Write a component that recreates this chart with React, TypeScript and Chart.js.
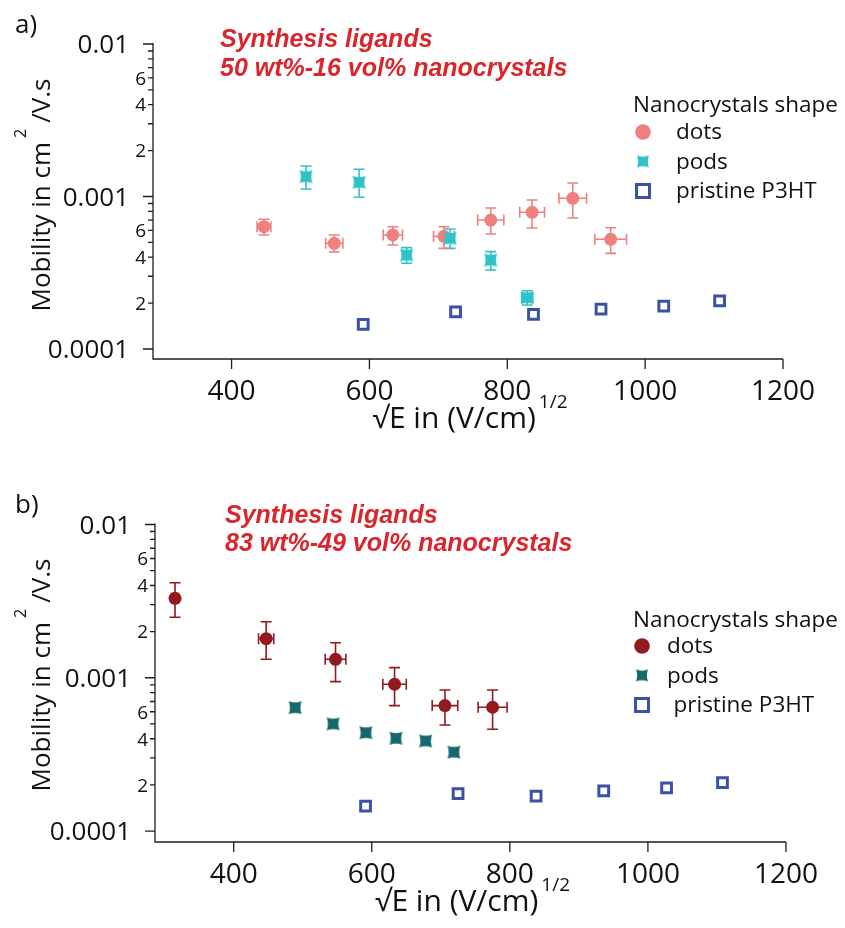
import React, { useEffect, useRef } from 'react';
import { Chart, registerables } from 'chart.js';

Chart.register(...registerables);

// ---------- axis / tick data ----------
const X_TICK_VALUES = [400, 600, 800, 1000, 1200];
const X_MIN = 286;
const X_MAX = 1200;
const Y_MAX = 0.01;
const Y_MAJOR_VALUES = [0.0001, 0.001, 0.01];
const Y_MAJOR_LABELS = ['0.0001', '0.001', '0.01'];
const Y_MINOR_MULTIPLIERS = [2, 3, 4, 5, 6, 7, 8, 9];
const Y_MINOR_LABELED = [2, 4, 6];

// ---------- text ----------
const LEGEND_TITLE = 'Nanocrystals shape';
const SERIES_NAMES = ['dots', 'pods', 'pristine P3HT'];
const X_TITLE = '√E in (V/cm)';
const X_TITLE_SUP = '1/2';
const Y_TITLE_MAIN = 'Mobility in cm';
const Y_TITLE_SUP = '2';
const Y_TITLE_END = '/V.s';

// ---------- pristine P3HT (same in both panels) ----------
const P3HT_X = [591, 725, 838, 936, 1027, 1108];
const P3HT_Y = [1.452e-4, 1.755e-4, 1.687e-4, 1.828e-4, 1.912e-4, 2.067e-4];

// ---------- panel a ----------
const A_TITLE = ['Synthesis ligands', '50 wt%-16 vol% nanocrystals'];
const A_DOTS_X = [447, 549, 634, 708, 776, 836, 895, 950];
const A_DOTS_Y = [6.34e-4, 4.93e-4, 5.59e-4, 5.48e-4, 7.01e-4, 7.88e-4, 9.73e-4, 5.24e-4];
const A_DOTS_Y_LOW = [5.59e-4, 4.33e-4, 4.81e-4, 4.57e-4, 5.68e-4, 6.21e-4, 7.23e-4, 4.24e-4];
const A_DOTS_Y_HIGH = [7.09e-4, 5.59e-4, 6.34e-4, 6.34e-4, 8.41e-4, 9.48e-4, 1.226e-3, 6.24e-4];
const A_DOTS_X_ERR = [10, 12.5, 14, 15, 19, 18, 20, 23];
const A_PODS_X = [508, 585, 654, 717, 776, 829];
const A_PODS_Y = [1.349e-3, 1.239e-3, 4.13e-4, 5.32e-4, 3.83e-4, 2.17e-4];
const A_PODS_Y_LOW = [1.12e-3, 9.88e-4, 3.65e-4, 4.57e-4, 3.3e-4, 1.945e-4];
const A_PODS_Y_HIGH = [1.585e-3, 1.51e-3, 4.62e-4, 6.12e-4, 4.35e-4, 2.41e-4];
const A_PODS_X_ERR = [0, 0, 0, 0, 0, 8];

// ---------- panel b ----------
const B_TITLE = ['Synthesis ligands', '83 wt%-49 vol% nanocrystals'];
const B_DOTS_X = [315, 447, 547.5, 633, 706, 775];
const B_DOTS_Y = [3.3e-3, 1.8e-3, 1.32e-3, 9.07e-4, 6.58e-4, 6.42e-4];
const B_DOTS_Y_LOW = [2.48e-3, 1.32e-3, 9.43e-4, 6.58e-4, 4.92e-4, 4.61e-4];
const B_DOTS_Y_HIGH = [4.17e-3, 2.32e-3, 1.694e-3, 1.164e-3, 8.32e-4, 8.32e-4];
const B_DOTS_X_ERR = [5, 11, 15, 17, 18.5, 21];
const B_PODS_X = [489, 544, 591.5, 635, 678, 719];
const B_PODS_Y = [6.38e-4, 5.0e-4, 4.38e-4, 4.03e-4, 3.87e-4, 3.27e-4];

// ---------- styles ----------
const FONT = '"Open Sans", "Noto Sans", sans-serif';
const AXIS_COLOR = '#1e1e1e';
const TITLE_RED = '#d8262c';
const P3HT_COLOR = '#3b51a8';

type Pt = { x: number; y: number; yMin?: number; yMax?: number; xMin?: number; xMax?: number };

function toPoints(xs: number[], ys: number[], lo?: number[], hi?: number[], xe?: number[]): Pt[] {
  return xs.map((x, i) => {
    const p: Pt = { x, y: ys[i] };
    if (lo && hi) {
      p.yMin = lo[i];
      p.yMax = hi[i];
    }
    if (xe && xe[i] > 0) {
      p.xMin = x - xe[i];
      p.xMax = x + xe[i];
    }
    return p;
  });
}

function podImage(color: string, size: number): HTMLCanvasElement {
  const c = document.createElement('canvas');
  const s = Math.ceil(size) + 2;
  c.width = s;
  c.height = s;
  const g = c.getContext('2d') as CanvasRenderingContext2D;
  const m = s / 2;
  const h = size / 2;
  const k = h * 0.38;
  g.fillStyle = color;
  g.beginPath();
  g.moveTo(m - h, m - h);
  g.quadraticCurveTo(m, m - h + k, m + h, m - h);
  g.quadraticCurveTo(m + h - k, m, m + h, m + h);
  g.quadraticCurveTo(m, m + h - k, m - h, m + h);
  g.quadraticCurveTo(m - h + k, m, m - h, m - h);
  g.closePath();
  g.fill();
  return c;
}

interface PanelLayout {
  padding: { left: number; right: number; top: number; bottom: number };
  yMin: number;
  label: string;
  labelY: number;
  titleX: number;
  titleY: [number, number];
  title: string[];
  yTitleCenter: number;
  legendTitleY: number;
  legendMarkerX: number;
  legendTextX: number[];
  legendRowY: number[];
  dotColor: string;
  podColor: string;
}

const LAYOUT_A: PanelLayout = {
  padding: { left: 153, right: 62, top: 44, bottom: 105 },
  yMin: 8.6e-5,
  label: 'a)',
  labelY: 33,
  titleX: 220,
  titleY: [47, 75.5],
  title: A_TITLE,
  yTitleCenter: 195,
  legendTitleY: 111.5,
  legendMarkerX: 643,
  legendTextX: [676, 676, 676],
  legendRowY: [132, 161.5, 191],
  dotColor: '#f08080',
  podColor: '#2fc3c8',
};

const LAYOUT_B: PanelLayout = {
  padding: { left: 155, right: 59, top: 60.5, bottom: 86 },
  yMin: 8.48e-5,
  label: 'b)',
  labelY: 49,
  titleX: 225,
  titleY: [59, 87],
  title: B_TITLE,
  yTitleCenter: 211,
  legendTitleY: 162.5,
  legendMarkerX: 642,
  legendTextX: [667, 667, 673.5],
  legendRowY: [182, 211.5, 241],
  dotColor: '#921b20',
  podColor: '#16696b',
};

function makeDecor(L: PanelLayout, legendPod: HTMLCanvasElement) {
  return {
    id: 'decor',
    beforeDatasetsDraw(chart: any) {
      const ctx: CanvasRenderingContext2D = chart.ctx;
      const xs = chart.scales.x;
      const ys = chart.scales.y;
      chart.data.datasets.forEach((ds: any) => {
        if (!ds.errColor) return;
        ctx.save();
        ctx.strokeStyle = ds.errColor;
        ctx.lineWidth = 1.6;
        const cap = ds.capSize / 2;
        ds.data.forEach((p: Pt) => {
          const px = xs.getPixelForValue(p.x);
          const py = ys.getPixelForValue(p.y);
          ctx.beginPath();
          if (p.yMin != null && p.yMax != null) {
            const y1 = ys.getPixelForValue(p.yMin);
            const y2 = ys.getPixelForValue(p.yMax);
            ctx.moveTo(px, y1);
            ctx.lineTo(px, y2);
            ctx.moveTo(px - cap, y1);
            ctx.lineTo(px + cap, y1);
            ctx.moveTo(px - cap, y2);
            ctx.lineTo(px + cap, y2);
          }
          if (p.xMin != null && p.xMax != null) {
            const x1 = xs.getPixelForValue(p.xMin);
            const x2 = xs.getPixelForValue(p.xMax);
            ctx.moveTo(x1, py);
            ctx.lineTo(x2, py);
            ctx.moveTo(x1, py - cap);
            ctx.lineTo(x1, py + cap);
            ctx.moveTo(x2, py - cap);
            ctx.lineTo(x2, py + cap);
          }
          ctx.stroke();
        });
        ctx.restore();
      });
    },
    afterDraw(chart: any) {
      const ctx: CanvasRenderingContext2D = chart.ctx;
      const xs = chart.scales.x;
      const ys = chart.scales.y;
      const { left, right, top, bottom } = chart.chartArea;
      ctx.save();
      // axis lines
      ctx.strokeStyle = AXIS_COLOR;
      ctx.lineWidth = 1.3;
      ctx.beginPath();
      ctx.moveTo(left, top - 1);
      ctx.lineTo(left, bottom);
      ctx.lineTo(right, bottom);
      ctx.stroke();

      // y ticks
      ctx.fillStyle = '#111';
      ctx.textAlign = 'right';
      ctx.textBaseline = 'alphabetic';
      ctx.beginPath();
      Y_MAJOR_VALUES.forEach((v, i) => {
        const py = ys.getPixelForValue(v);
        ctx.moveTo(left - 10, py);
        ctx.lineTo(left, py);
        if (i < Y_MAJOR_VALUES.length - 1) {
          Y_MINOR_MULTIPLIERS.forEach((m) => {
            const my = ys.getPixelForValue(v * m);
            ctx.moveTo(left - 5, my);
            ctx.lineTo(left, my);
          });
        }
      });
      // x ticks
      X_TICK_VALUES.forEach((v) => {
        const px = xs.getPixelForValue(v);
        ctx.moveTo(px, bottom);
        ctx.lineTo(px, bottom + 10);
      });
      ctx.stroke();

      ctx.font = `26px ${FONT}`;
      Y_MAJOR_VALUES.forEach((v, i) => {
        const py = ys.getPixelForValue(v);
        ctx.fillText(Y_MAJOR_LABELS[i], left - 24, py + 9);
      });
      ctx.font = `19px ${FONT}`;
      Y_MAJOR_VALUES.slice(0, -1).forEach((v) => {
        Y_MINOR_LABELED.forEach((m) => {
          const py = ys.getPixelForValue(v * m);
          ctx.fillText(String(m), left - 7, py + 6.8);
        });
      });

      ctx.textAlign = 'center';
      ctx.font = `28px ${FONT}`;
      X_TICK_VALUES.forEach((v) => {
        const px = xs.getPixelForValue(v);
        ctx.fillText(String(v), px, bottom + 41);
      });

      // x title with superscript
      ctx.textAlign = 'left';
      const mainFont = `30px ${FONT}`;
      const supFont = `19px ${FONT}`;
      ctx.font = mainFont;
      const wMain = ctx.measureText(X_TITLE).width;
      ctx.font = supFont;
      const wSup = ctx.measureText(X_TITLE_SUP).width;
      const totX = wMain + 3 + wSup;
      const cx = (left + right) / 2 + 2;
      const sx = cx - totX / 2;
      ctx.font = mainFont;
      ctx.fillText(X_TITLE, sx, bottom + 69);
      ctx.font = supFont;
      ctx.fillText(X_TITLE_SUP, sx + wMain + 3, bottom + 49);

      // y title rotated
      ctx.save();
      ctx.translate(50, L.yTitleCenter);
      ctx.rotate(-Math.PI / 2);
      const yMainFont = `26px ${FONT}`;
      const ySupFont = `16px ${FONT}`;
      ctx.font = yMainFont;
      const w1 = ctx.measureText(Y_TITLE_MAIN).width;
      const w3 = ctx.measureText(Y_TITLE_END).width;
      ctx.font = ySupFont;
      const w2 = ctx.measureText(Y_TITLE_SUP).width;
      const tot = w1 + 4 + w2 + 6 + w3;
      let tx = -tot / 2;
      ctx.font = yMainFont;
      ctx.fillText(Y_TITLE_MAIN, tx, 0);
      tx += w1 + 4;
      ctx.font = ySupFont;
      ctx.fillText(Y_TITLE_SUP, tx, -24);
      tx += w2 + 6;
      ctx.font = yMainFont;
      ctx.fillText(Y_TITLE_END, tx, 0);
      ctx.restore();

      // panel label
      ctx.font = `26px ${FONT}`;
      ctx.fillStyle = '#111';
      ctx.fillText(L.label, 15, L.labelY);

      // red title
      ctx.fillStyle = TITLE_RED;
      ctx.font = `italic bold 25px "Liberation Sans", Arial, sans-serif`;
      ctx.fillText(L.title[0], L.titleX, L.titleY[0]);
      ctx.fillText(L.title[1], L.titleX, L.titleY[1]);

      // legend
      ctx.fillStyle = '#111';
      ctx.font = `22.5px ${FONT}`;
      ctx.fillText(LEGEND_TITLE, 633, L.legendTitleY);
      SERIES_NAMES.forEach((name, i) => {
        ctx.fillStyle = '#111';
        ctx.fillText(name, L.legendTextX[i], L.legendRowY[i] + 7);
      });
      const mx = L.legendMarkerX;
      ctx.fillStyle = L.dotColor;
      ctx.beginPath();
      ctx.arc(mx, L.legendRowY[0], 7.8, 0, Math.PI * 2);
      ctx.fill();
      ctx.drawImage(legendPod, mx - legendPod.width / 2, L.legendRowY[1] - legendPod.height / 2);
      ctx.strokeStyle = P3HT_COLOR;
      ctx.lineWidth = 3;
      ctx.strokeRect(mx - 6.5, L.legendRowY[2] - 6.5, 13, 13);
      ctx.restore();
    },
  };
}

function buildChart(canvas: HTMLCanvasElement, L: PanelLayout, dots: Pt[], pods: Pt[], podsErr: boolean) {
  const podImg = podImage(L.podColor, 13);
  const legendPod = podImage(L.podColor, 12);
  const datasets: any[] = [
    {
      label: SERIES_NAMES[1],
      data: pods,
      pointStyle: podImg,
      pointRadius: 7,
      backgroundColor: L.podColor,
      borderWidth: 0,
      showLine: false,
      order: 1,
      errColor: podsErr ? L.podColor : undefined,
      capSize: 11,
    },
    {
      label: SERIES_NAMES[0],
      data: dots,
      pointStyle: 'circle',
      pointRadius: 6.5,
      backgroundColor: L.dotColor,
      borderColor: L.dotColor,
      borderWidth: 0,
      showLine: false,
      order: 2,
      errColor: L.dotColor,
      capSize: 11,
    },
    {
      label: SERIES_NAMES[2],
      data: toPoints(P3HT_X, P3HT_Y),
      pointStyle: 'rect',
      pointRadius: 6.9,
      backgroundColor: 'rgba(255,255,255,0)',
      borderColor: P3HT_COLOR,
      borderWidth: 3,
      showLine: false,
      order: 3,
    },
  ];
  return new Chart(canvas, {
    type: 'scatter',
    data: { datasets },
    options: {
      animation: false,
      responsive: false,
      devicePixelRatio: 1,
      events: [],
      layout: { padding: L.padding },
      scales: {
        x: { type: 'linear', min: X_MIN, max: X_MAX, display: false },
        y: { type: 'logarithmic', min: L.yMin, max: Y_MAX, display: false },
      },
      plugins: {
        legend: { display: false },
        tooltip: { enabled: false },
      },
    } as any,
    plugins: [makeDecor(L, legendPod) as any],
  });
}

export default function App() {
  const refA = useRef<HTMLCanvasElement | null>(null);
  const refB = useRef<HTMLCanvasElement | null>(null);

  useEffect(() => {
    const a = buildChart(
      refA.current as HTMLCanvasElement,
      LAYOUT_A,
      toPoints(A_DOTS_X, A_DOTS_Y, A_DOTS_Y_LOW, A_DOTS_Y_HIGH, A_DOTS_X_ERR),
      toPoints(A_PODS_X, A_PODS_Y, A_PODS_Y_LOW, A_PODS_Y_HIGH, A_PODS_X_ERR),
      true,
    );
    const b = buildChart(
      refB.current as HTMLCanvasElement,
      LAYOUT_B,
      toPoints(B_DOTS_X, B_DOTS_Y, B_DOTS_Y_LOW, B_DOTS_Y_HIGH, B_DOTS_X_ERR),
      toPoints(B_PODS_X, B_PODS_Y),
      false,
    );
    return () => {
      a.destroy();
      b.destroy();
    };
  }, []);

  return (
    <div style={{ position: 'absolute', left: 0, top: 0, width: 845, height: 928, background: '#fff' }}>
      <canvas
        ref={refA}
        width={845}
        height={464}
        style={{ position: 'absolute', left: 0, top: 0, width: 845, height: 464, display: 'block' }}
      />
      <canvas
        ref={refB}
        width={845}
        height={464}
        style={{ position: 'absolute', left: 0, top: 464, width: 845, height: 464, display: 'block' }}
      />
    </div>
  );
}
